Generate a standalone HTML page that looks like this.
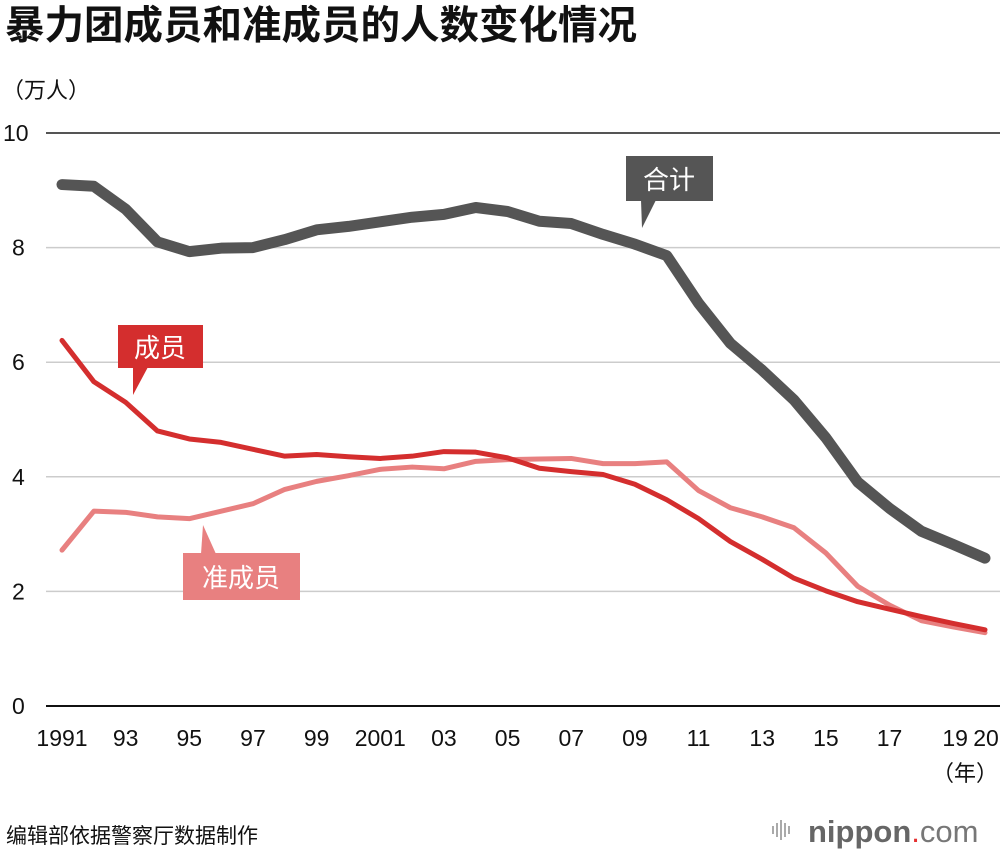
<!DOCTYPE html>
<html><head><meta charset="utf-8"><style>
body{margin:0;background:#fff;width:1000px;height:856px;overflow:hidden;font-family:"Liberation Sans","Noto Sans CJK SC",sans-serif}
</style></head><body>
<svg width="1000" height="856" xmlns="http://www.w3.org/2000/svg" font-family="Liberation Sans, Noto Sans CJK SC, sans-serif">
<text x="5" y="39" font-size="39.5" font-weight="bold" fill="#111">暴力团成员和准成员的人数变化情况</text>
<text x="2" y="98" font-size="22" fill="#111">（万人）</text>
<g id="grid"></g>
<g id="series"></g>
<g id="xlabels"></g>
<text x="998" y="781" font-size="22" fill="#111" text-anchor="end">（年）</text>
<g>
<rect x="626" y="156" width="87" height="45" fill="#555"/>
<polygon points="641,200 656,200 642,228" fill="#555"/>
<text x="669" y="189" font-size="26" fill="#fff" text-anchor="middle">合计</text>
</g>
<g>
<rect x="118" y="325" width="85" height="43" fill="#d42e2e"/>
<polygon points="133,367 148,367 133,395" fill="#d42e2e"/>
<text x="160" y="357" font-size="26" fill="#fff" text-anchor="middle">成员</text>
</g>
<g>
<rect x="183" y="553" width="117" height="47" fill="#e88080"/>
<polygon points="201,554 216,554 203,525" fill="#e88080"/>
<text x="241" y="587" font-size="26" fill="#fff" text-anchor="middle">准成员</text>
</g>
<text x="6" y="843" font-size="21" fill="#111">编辑部依据警察厅数据制作</text>
<g>
<g fill="#aaa"><rect x="772" y="826" width="2" height="8"/><rect x="776" y="823" width="2" height="14"/><rect x="780" y="820" width="2" height="20"/><rect x="784" y="823" width="2" height="14"/><rect x="788" y="826" width="2" height="8"/></g>
<text x="808" y="842" font-size="31" fill="#666"><tspan font-weight="bold">nippon</tspan><tspan fill="#e53030">.</tspan><tspan fill="#777">com</tspan></text>
</g>
</svg>
<script>
const years=[1991,1992,1993,1994,1995,1996,1997,1998,1999,2000,2001,2002,2003,2004,2005,2006,2007,2008,2009,2010,2011,2012,2013,2014,2015,2016,2017,2018,2019,2020];
const totalVals=[9.1,9.07,8.67,8.1,7.93,7.99,8.0,8.14,8.31,8.37,8.45,8.53,8.58,8.7,8.63,8.46,8.42,8.23,8.06,7.86,7.03,6.33,5.86,5.34,4.68,3.91,3.45,3.05,2.82,2.58];
const memberVals=[6.38,5.66,5.3,4.8,4.66,4.6,4.48,4.36,4.39,4.35,4.32,4.36,4.44,4.43,4.33,4.15,4.09,4.04,3.87,3.6,3.27,2.87,2.56,2.23,2.01,1.82,1.69,1.56,1.44,1.33];
const associateVals=[2.72,3.4,3.38,3.3,3.27,3.4,3.53,3.78,3.92,4.02,4.13,4.17,4.14,4.27,4.3,4.31,4.32,4.23,4.23,4.26,3.76,3.46,3.3,3.11,2.67,2.09,1.76,1.49,1.38,1.28];
const yTicks=[0,2,4,6,8,10];
const xTickLabels=["1991","93","95","97","99","2001","03","05","07","09","11","13","15","17","19","20"];
const xTickYears=[1991,1993,1995,1997,1999,2001,2003,2005,2007,2009,2011,2013,2015,2017,2019,2020];
const NS="http://www.w3.org/2000/svg";
const xs=y=>62+(y-1991)*(985-62)/29;
const ys=v=>706-v*57.3;
const grid=document.getElementById('grid');
yTicks.forEach(t=>{
 const l=document.createElementNS(NS,'line');
 l.setAttribute('x1',46);l.setAttribute('x2',1000);l.setAttribute('y1',ys(t));l.setAttribute('y2',ys(t));
 l.setAttribute('stroke',t===0?'#111':(t===10?'#555':'#ccc'));l.setAttribute('stroke-width',t===0?2:(t===10?2:1.5));
 
 
 grid.appendChild(l);
 const tx=document.createElementNS(NS,'text');
 tx.setAttribute('x',t===10?3:12);tx.setAttribute('y',ys(t)+8);tx.setAttribute('font-size',23);tx.setAttribute('fill','#111');
 tx.textContent=t;
 
 
 grid.appendChild(tx);
});
const xl=document.getElementById('xlabels');
xTickLabels.forEach((s,i)=>{
 const tx=document.createElementNS(NS,'text');
 let x=xs(xTickYears[i]);
 if(s==="19")x+=2; if(s==="20")x+=1;
 tx.setAttribute('x',x);tx.setAttribute('y',746);tx.setAttribute('font-size',23);tx.setAttribute('fill','#111');tx.setAttribute('text-anchor','middle');
 tx.textContent=s;
 
 
 xl.appendChild(tx);
});
const sg=document.getElementById('series');
function line(vals,color,w,name){
 const p=document.createElementNS(NS,'polyline');
 p.setAttribute('points',vals.map((v,i)=>xs(years[i])+','+ys(v)).join(' '));
 p.setAttribute('fill','none');p.setAttribute('stroke',color);p.setAttribute('stroke-width',w);
 p.setAttribute('stroke-linejoin','round');p.setAttribute('stroke-linecap','round');
 
 
 sg.appendChild(p);
}
line(associateVals,'#e88080',5,'associates-line');
line(memberVals,'#d42e2e',5,'members-line');
line(totalVals,'#555',11,'total-line');
</script>
</body></html>
